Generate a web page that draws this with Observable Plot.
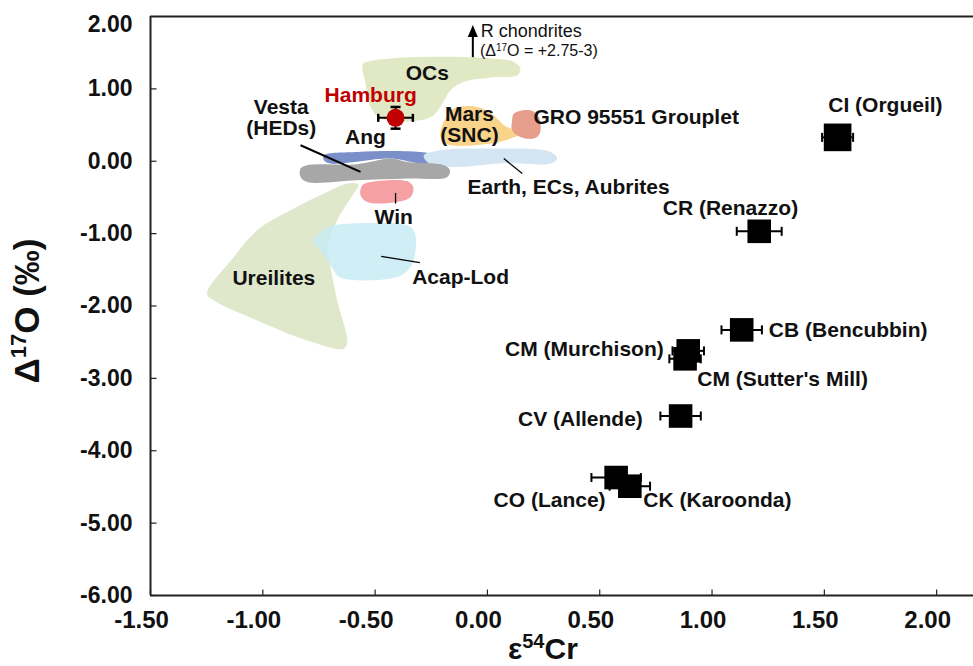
<!DOCTYPE html>
<html><head><meta charset="utf-8">
<script src="https://cdn.jsdelivr.net/npm/d3@7"></script>
<script src="https://cdn.jsdelivr.net/npm/@observablehq/plot@0.6"></script>
<style>
html,body{margin:0;padding:0;background:#fff;}
#chart svg{display:block;}
</style></head><body><div id="chart"></div>
<script>
// ---- axes ----
const xDomain = [-1.5, 2.164];
const yDomain = [-6, 2];
const xTicks = [-1.5, -1, -0.5, 0, 0.5, 1, 1.5, 2];
const yTicks = [1, 0, -1, -2, -3, -4, -5, -6];
const yTopTick = [2];

// ---- carbonaceous chondrites (black squares) ----
const chondriteNames = ["CI (Orgueil)", "CR (Renazzo)", "CB (Bencubbin)", "CM (Murchison)", "CM (Sutter's Mill)", "CV (Allende)", "CO (Lance)", "CK (Karoonda)"];
const chondriteCr    = [1.559, 1.210, 1.132, 0.894, 0.880, 0.860, 0.573, 0.634];
const chondriteO     = [0.33, -0.968, -2.33, -2.62, -2.73, -3.52, -4.37, -4.49];
const chondriteCrErr = [0.069, 0.10, 0.09, 0.07, 0.07, 0.09, 0.11, 0.09];
const chondriteLabelX = [1.772, 1.082, 1.253, 0.785, 0.934, 0.692, 0.526, 0.694];
const chondriteLabelY = [0.775, -0.654, -2.337, -2.591, -3.006, -3.559, -4.689, -4.689];
const chondriteLabelAnchor = ["middle", "middle", "start", "end", "start", "end", "end", "start"];

// ---- Hamburg ----
const hamburgCr = [-0.409];
const hamburgO = [0.60];
const hamburgCrErr = [0.077];
const hamburgOErr = [0.15];
const hamburgLabel = ["Hamburg"];
const hamburgLabelX = [-0.520];
const hamburgLabelY = [0.913];

// ---- fields (polygon vertices: [ε54Cr, Δ17O]) ----
const ureilites = [[-0.580,-0.308],[-0.624,-0.308],[-0.728,-0.447],[-0.877,-0.678],[-1.025,-0.954],[-1.129,-1.324],[-1.248,-1.830],[-1.218,-1.923],[-1.025,-2.199],[-0.802,-2.476],[-0.639,-2.591],[-0.624,-2.499],[-0.669,-1.923],[-0.699,-1.462],[-0.713,-1.185],[-0.669,-0.816],[-0.595,-0.447],[-0.573,-0.332]];
const acapLod = [[-0.713,-0.909],[-0.654,-0.871],[-0.357,-0.885],[-0.325,-0.978],[-0.320,-1.231],[-0.342,-1.462],[-0.402,-1.600],[-0.654,-1.609],[-0.684,-1.508],[-0.713,-1.369],[-0.736,-1.277],[-0.776,-1.093],[-0.758,-1.024]];
const ocs = [[-0.553,1.351],[-0.431,1.420],[-0.209,1.443],[0.014,1.420],[0.118,1.373],[0.147,1.282],[0.133,1.189],[0.014,1.158],[-0.105,1.097],[-0.164,0.982],[-0.201,0.798],[-0.239,0.636],[-0.298,0.567],[-0.476,0.591],[-0.520,0.751],[-0.543,1.075],[-0.557,1.304]];
const mars = [[-0.187,0.591],[-0.150,0.729],[-0.045,0.751],[0.028,0.636],[0.073,0.498],[0.147,0.383],[0.103,0.314],[0.014,0.245],[-0.179,0.235],[-0.209,0.336],[-0.201,0.498]];
const gro = [[0.118,0.660],[0.192,0.705],[0.229,0.613],[0.233,0.383],[0.207,0.314],[0.147,0.336],[0.110,0.429],[0.110,0.567]];
const win = [[-0.557,-0.332],[-0.520,-0.286],[-0.357,-0.277],[-0.330,-0.355],[-0.342,-0.494],[-0.402,-0.563],[-0.535,-0.563],[-0.565,-0.470]];
const vesta = [[-0.728,0.083],[-0.580,0.129],[-0.357,0.138],[-0.253,0.107],[-0.194,0.037],[-0.285,-0.032],[-0.431,0.037],[-0.699,-0.032],[-0.728,0.014]];
const earth = [[-0.283,0.083],[-0.209,0.152],[0.014,0.176],[0.281,0.129],[0.311,0.037],[0.281,-0.032],[0.088,-0.024],[-0.134,-0.079],[-0.239,-0.055],[-0.276,0.014]];
const angrites = [[-0.832,-0.101],[-0.802,-0.055],[-0.580,-0.041],[-0.431,0.037],[-0.357,-0.010],[-0.194,-0.055],[-0.167,-0.124],[-0.179,-0.217],[-0.357,-0.239],[-0.580,-0.263],[-0.802,-0.286],[-0.832,-0.217]];

// ---- field labels ----
const regionLabels = ["OCs", "Vesta\n(HEDs)", "Ang", "Mars\n(SNC)", "GRO 95551 Grouplet", "Earth, ECs, Aubrites", "Win", "Acap-Lod", "Ureilites"];
const regionLabelX = [-0.268, -0.918, -0.543, -0.080, 0.205, -0.089, -0.417, -0.335, -0.951];
const regionLabelY = [1.213, 0.606, 0.336, 0.498, 0.613, -0.355, -0.770, -1.600, -1.622];
const regionLabelAnchor = ["middle", "middle", "middle", "middle", "start", "start", "middle", "start", "middle"];

// ---- leader lines ----
const leaderX1 = [-0.832, 0.073, -0.409, -0.473];
const leaderY1 = [0.221, 0.037, -0.438, -1.314];
const leaderX2 = [-0.565, 0.155, -0.409, -0.301];
const leaderY2 = [-0.148, -0.170, -0.585, -1.401];

// ---- R chondrites arrow ----
const rArrowX = [-0.065];
const rArrowY1 = [1.438];
const rArrowY2 = [1.881];
const rLabelLine1 = "R chondrites";
const rLabelX = -0.028;
const rLabelY = 1.766;
const rRangeY = 1.535;

// ---- tables ----
const chondrites = chondriteNames.map((name, i) => ({name, x: chondriteCr[i], y: chondriteO[i], ex: chondriteCrErr[i],
  lx: chondriteLabelX[i], ly: chondriteLabelY[i], anchor: chondriteLabelAnchor[i]}));
const hamburg = hamburgCr.map((x, i) => ({x, y: hamburgO[i], ex: hamburgCrErr[i], ey: hamburgOErr[i]}));
const labels = regionLabels.map((t, i) => ({t, x: regionLabelX[i], y: regionLabelY[i], anchor: regionLabelAnchor[i]}));
const leaders = leaderX1.map((x1, i) => ({x1, y1: leaderY1[i], x2: leaderX2[i], y2: leaderY2[i]}));
const fields = [
  {pts: ureilites, fill: "#dfe8cb", opacity: 1},
  {pts: acapLod, fill: "#c4eaf4", opacity: 0.8},
  {pts: ocs, fill: "#e0e9c4", opacity: 1},
  {pts: mars, fill: "#f9d38a", opacity: 1},
  {pts: gro, fill: "#e69d8c", opacity: 1},
  {pts: win, fill: "#f5a1a4", opacity: 1},
  {pts: vesta, fill: "#7b8fc8", opacity: 1},
  {pts: earth, fill: "#d4e5f4", opacity: 1},
  {pts: angrites, fill: "#a2a2a2", opacity: 0.95}
];

// ---- custom symbols ----
const rad = s => Math.sqrt(s / Math.PI);
const tickUp = {draw(c, s) { const r = rad(s); c.moveTo(0, 0); c.lineTo(0, -r); }};
const tickRight = {draw(c, s) { const r = rad(s); c.moveTo(0, 0); c.lineTo(r, 0); }};
const capV = {draw(c, s) { const r = rad(s); c.moveTo(0, -r); c.lineTo(0, r); }};
const capH = {draw(c, s) { const r = rad(s); c.moveTo(-r, 0); c.lineTo(r, 0); }};
const arrowHead = {draw(c, s) { const r = rad(s); c.moveTo(0, 0); c.lineTo(-r * 0.42, r); c.lineTo(r * 0.42, r); c.closePath(); }};

const font = '"Liberation Sans", Arial, Helvetica, sans-serif';
const fmt = d => d.toFixed(2);
const ink = "#111";
const anchors = ["start", "middle", "end"];

const chart = Plot.plot({
  width: 973, height: 666,
  marginLeft: 150, marginRight: 0, marginTop: 16, marginBottom: 71,
  x: {domain: xDomain, axis: null},
  y: {domain: yDomain, axis: null},
  style: {fontFamily: font, background: "#fff", overflow: "visible"},
  marks: [
    ...fields.map(f => Plot.line(f.pts, {x: d => d[0], y: d => d[1], fill: f.fill, fillOpacity: f.opacity, stroke: "none", curve: "catmull-rom-closed"})),
    Plot.link(leaders.slice(0, 1), {x1: "x1", y1: "y1", x2: "x2", y2: "y2", stroke: "#000", strokeWidth: 2}),
    Plot.link(leaders.slice(1), {x1: "x1", y1: "y1", x2: "x2", y2: "y2", stroke: "#000", strokeWidth: 1.3}),
    // axes
    Plot.ruleX([xDomain[0]], {stroke: "#222", strokeWidth: 2}),
    Plot.ruleY([yDomain[0], yDomain[1]], {stroke: "#222", strokeWidth: 2}),
    Plot.dot(xTicks, {x: d => d, y: yDomain[0], symbol: tickUp, r: 6, stroke: "#222", strokeWidth: 1.2, fill: "none"}),
    Plot.dot(yTicks, {x: xDomain[0], y: d => d, symbol: tickRight, r: 6, stroke: "#222", strokeWidth: 1.2, fill: "none"}),
    Plot.text(xTicks, {x: d => d, frameAnchor: "bottom", lineAnchor: "top", dy: 15, dx: -9, text: fmt, fontSize: 24, fontWeight: "bold", fill: ink}),
    Plot.text(yTicks, {y: d => d, frameAnchor: "left", textAnchor: "end", dx: -18, text: fmt, fontSize: 23, fontWeight: "bold", fill: ink}),
    Plot.text(yTopTick, {y: d => d, frameAnchor: "left", textAnchor: "end", dx: -18, dy: 8, text: fmt, fontSize: 23, fontWeight: "bold", fill: ink}),
    // error bars
    Plot.ruleY(chondrites, {y: "y", x1: d => d.x - d.ex, x2: d => d.x + d.ex, stroke: "#000", strokeWidth: 2}),
    Plot.dot(chondrites, {x: d => d.x - d.ex, y: "y", symbol: capV, r: 4.5, stroke: "#000", strokeWidth: 2, fill: "none"}),
    Plot.dot(chondrites, {x: d => d.x + d.ex, y: "y", symbol: capV, r: 4.5, stroke: "#000", strokeWidth: 2, fill: "none"}),
    Plot.dot(chondrites.filter(d => d.name !== "CI (Orgueil)"), {x: "x", y: "y", symbol: "square", r: 13.3, fill: "#000"}),
    Plot.dot(chondrites.filter(d => d.name === "CI (Orgueil)"), {x: "x", y: "y", symbol: "square", r: 15.6, fill: "#000"}),
    ...anchors.map(a => Plot.text(chondrites.filter(d => d.anchor === a), {x: "lx", y: "ly", text: "name", textAnchor: a, fontSize: 21, fontWeight: "bold", fill: ink})),
    // Hamburg
    Plot.ruleY(hamburg, {y: "y", x1: d => d.x - d.ex, x2: d => d.x + d.ex, stroke: "#000", strokeWidth: 2}),
    Plot.ruleX(hamburg, {x: "x", y1: d => d.y - d.ey, y2: d => d.y + d.ey, stroke: "#000", strokeWidth: 2}),
    Plot.dot(hamburg, {x: d => d.x - d.ex, y: "y", symbol: capV, r: 4, stroke: "#000", strokeWidth: 2.5, fill: "none"}),
    Plot.dot(hamburg, {x: d => d.x + d.ex, y: "y", symbol: capV, r: 4, stroke: "#000", strokeWidth: 2.5, fill: "none"}),
    Plot.dot(hamburg, {x: "x", y: d => d.y - d.ey, symbol: capH, r: 5, stroke: "#000", strokeWidth: 2.5, fill: "none"}),
    Plot.dot(hamburg, {x: "x", y: d => d.y + d.ey, symbol: capH, r: 5, stroke: "#000", strokeWidth: 2.5, fill: "none"}),
    Plot.dot(hamburg, {x: "x", y: "y", r: 9, fill: "#c00000", stroke: "none"}),
    Plot.text(hamburgLabel, {x: hamburgLabelX, y: hamburgLabelY, text: d => d, fontSize: 21, fontWeight: "bold", fill: "#c00000"}),
    // field labels
    ...anchors.map(a => Plot.text(labels.filter(d => d.anchor === a), {x: "x", y: "y", text: "t", textAnchor: a, fontSize: 21, fontWeight: "bold", lineHeight: 1.0, fill: ink})),
    // R chondrites arrow
    Plot.link(rArrowX, {x1: d => d, x2: d => d, y1: rArrowY1[0], y2: rArrowY2[0] - 0.12, stroke: "#000", strokeWidth: 2}),
    Plot.dot(rArrowX, {x: d => d, y: rArrowY2[0], symbol: arrowHead, r: 12, fill: "#000", stroke: "none"})
  ]
});

const svg = d3.select(chart);
const sx = d3.scaleLinear(xDomain, [150, 973]);
const sy = d3.scaleLinear(yDomain, [595, 16]);

// y-axis title
const yt = svg.append("text").attr("transform", "translate(39,311) rotate(-90)")
  .attr("text-anchor", "middle").attr("font-family", font).attr("font-size", 35).attr("font-weight", "bold").attr("fill", ink);
yt.append("tspan").text("Δ");
yt.append("tspan").attr("dy", -13).attr("font-size", 22).text("17");
yt.append("tspan").attr("dy", 13).text("O (‰)");

// x-axis title
const xt = svg.append("text").attr("x", 508).attr("y", 659).attr("text-anchor", "start")
  .attr("font-family", font).attr("font-size", 30).attr("font-weight", "bold").attr("fill", ink);
xt.append("tspan").text("ε");
xt.append("tspan").attr("dy", -11).attr("font-size", 20).text("54");
xt.append("tspan").attr("dy", 11).text("Cr");

// R chondrites annotation (two lines in one text)
const x0 = sx(rLabelX);
const y1 = sy(rLabelY) + 4;
const y2 = sy(rRangeY) + 6;
const rt = svg.append("text").attr("x", x0).attr("y", y1).attr("text-anchor", "start")
  .attr("font-family", font).attr("font-size", 18).attr("fill", ink);
rt.append("tspan").text(rLabelLine1);
rt.append("tspan").attr("x", x0 - 0.7).attr("dy", y2 - y1).attr("font-size", 16).text("(Δ");
rt.append("tspan").attr("dy", -5).attr("font-size", 10).text("17");
rt.append("tspan").attr("dy", 5).attr("font-size", 16).text("O = +2.75-3)");

document.getElementById("chart").appendChild(chart);
</script>
</body></html>
